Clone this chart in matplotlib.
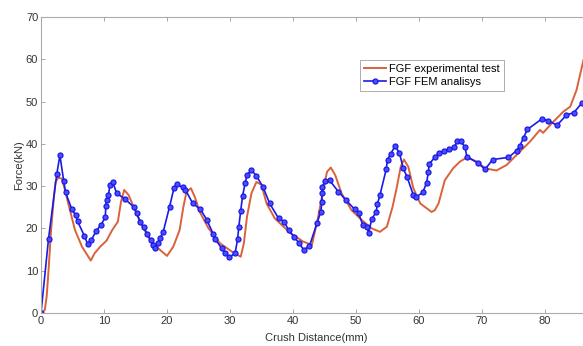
import matplotlib.pyplot as plt

# experimental curve
exp_x = [0, 0.6, 0.9, 1.2, 1.6, 2.0, 2.3, 2.75, 3.3, 3.8, 4.6, 5.4, 6.5, 7.9,
         8.5, 9.4, 10.4, 11.3, 12.2, 12.7, 13.2, 13.9, 14.7, 16.0, 17.3, 18.9,
         20.0, 21.0, 22.0, 22.6, 23.1, 23.8, 24.4, 25.2, 26.6, 28.4, 30.3, 31.7,
         32.2, 32.7, 33.4, 34.2, 35.0, 35.8, 37.1, 39.5, 41.6, 43.0, 44.0, 44.8,
         45.4, 46.0, 46.7, 47.7, 49.3, 50.9, 52.5, 53.8, 54.9, 55.8, 56.5, 57.1,
         57.6, 58.3, 59.1, 60.2, 62.0, 62.5, 63.1, 64.1, 65.4, 66.5, 67.6, 69.2,
         70.5, 72.3, 73.9, 75.5, 77.6, 79.2, 79.7, 81.1, 82.9, 84.0, 85.0, 86.1]
exp_y = [0, 0.7, 3.9, 10.2, 19.6, 26.7, 31.0, 32.0, 31.8, 29.1, 24.3, 19.6, 15.7, 12.4,
         14.1, 15.7, 17.1, 19.6, 21.6, 26.3, 29.1, 27.9, 25.1, 20.8, 17.3, 14.9,
         13.5, 15.7, 19.6, 25.1, 28.7, 29.5, 27.5, 23.9, 20.0, 16.5, 14.5, 13.3,
         16.5, 22.8, 28.3, 31.0, 30.3, 25.9, 22.4, 19.0, 16.9, 16.1, 22.8, 29.1,
         33.4, 34.4, 32.6, 28.3, 24.3, 22.0, 20.0, 19.2, 20.4, 25.1, 29.9, 34.6,
         36.3, 34.6, 29.5, 25.9, 23.9, 24.3, 25.9, 31.4, 34.2, 35.8, 36.8, 35.8,
         34.2, 33.7, 35.0, 37.4, 40.5, 43.3, 42.6, 44.9, 47.6, 48.8, 52.7, 59.8]

# FEM curve
fem_x = [0, 1.2, 2.5, 3.0, 3.6, 3.9, 4.9, 5.5, 5.8, 6.9, 7.4, 8.0, 8.8, 9.5, 10.2,
         10.3, 10.4, 10.7, 10.95, 11.4, 12.0, 13.3, 14.7, 15.2, 15.7, 16.3, 16.8,
         17.4, 17.7, 18.1, 18.5, 18.9, 19.4, 20.4, 21.1, 21.6, 22.5, 22.9, 24.1,
         25.3, 26.3, 27.3, 27.6, 28.7, 29.2, 29.9, 30.8, 31.2, 31.4, 31.7, 32.0,
         32.4, 32.7, 33.4, 34.2, 35.2, 36.3, 37.7, 38.6, 39.3, 40.2, 41.0, 41.7,
         42.6, 43.8, 44.4, 44.6, 44.6, 44.6, 45.1, 45.8, 47.2, 48.4, 49.8, 50.4,
         51.1, 51.8, 52.0, 52.5, 53.2, 53.4, 53.8, 54.8, 55.0, 55.5, 56.2, 56.9,
         57.5, 58.1, 59.1, 59.5, 60.6, 61.2, 61.5, 61.6, 62.5, 63.1, 64.0, 64.8,
         65.6, 66.1, 66.6, 67.3, 67.6, 69.3, 70.5, 71.7, 74.2, 75.5, 76.0, 76.6,
         77.2, 79.5, 80.5, 81.9, 83.4, 84.6, 85.8]
fem_y = [0, 17.6, 32.8, 37.3, 31.3, 28.5, 24.5, 23.1, 21.7, 18.2, 16.3, 17.3, 19.5,
         20.8, 22.6, 25.4, 26.7, 27.9, 30.3, 31.0, 28.3, 27.0, 25.1, 23.6, 21.6,
         20.4, 18.8, 17.3, 16.1, 15.3, 16.5, 17.7, 19.2, 25.1, 29.5, 30.4, 29.7,
         29.2, 25.9, 24.5, 22.1, 18.8, 17.5, 15.3, 14.1, 13.2, 14.1, 17.4, 20.4,
         24.2, 27.7, 30.7, 32.6, 33.8, 32.4, 29.9, 25.9, 22.4, 21.6, 19.6, 17.9,
         16.5, 14.9, 15.8, 21.2, 23.9, 26.3, 28.3, 29.7, 31.3, 31.4, 28.7, 26.7,
         24.5, 23.6, 20.8, 20.3, 19.0, 22.2, 23.9, 25.8, 27.9, 34.0, 36.3, 37.6,
         39.5, 37.8, 34.2, 32.2, 27.9, 27.4, 28.5, 30.8, 33.4, 35.2, 36.8, 37.8,
         38.4, 38.7, 39.2, 40.7, 40.7, 39.2, 37.0, 35.5, 34.0, 36.3, 36.8, 38.4,
         39.5, 41.5, 43.4, 45.9, 45.5, 44.4, 46.8, 47.4, 49.6]

plt.rcParams['font.family'] = ['Liberation Sans', 'DejaVu Sans']

fig = plt.figure(figsize=(5.83, 3.46), dpi=100)
# axes runs past the right edge, the original picture is cut there
ax = fig.add_axes([41/583, 33/346, 550/583, 296/346])

ax.plot(exp_x, exp_y, color='#d9623b', lw=1.4, label='FGF experimental test')
ax.plot(fem_x, fem_y, color='#1a1ae6', lw=1.2, marker='o', ms=3.6,
        mfc='#4d4dff', mec='#1a1ae6', mew=0.9, label='FGF FEM analisys')

ax.set_xlim(0, 87.3)
ax.set_ylim(0, 70)
ax.set_xticks(range(0, 90, 10))
ax.set_yticks(range(0, 71, 10))
ax.tick_params(direction='in', top=True, right=True, length=3, width=0.6,
               colors='#999999', labelcolor='#333333', labelsize=8, pad=2)
for s in ax.spines.values():
    s.set_color('#aaaaaa')
    s.set_linewidth(0.8)

ax.set_xlabel('Crush Distance(mm)', fontsize=8, color='#333333', labelpad=5)
ax.set_ylabel('Force(kN)', fontsize=8, color='#333333', labelpad=1)

leg = ax.legend(loc='upper left', bbox_to_anchor=(360/583, 1 - 60/346),
                bbox_transform=fig.transFigure, fontsize=8, frameon=True,
                fancybox=False, handlelength=2.0, handletextpad=0.3,
                borderpad=0.35, labelspacing=0.25, borderaxespad=0)
leg.get_frame().set_edgecolor('#999999')
leg.get_frame().set_linewidth(0.7)

fig.savefig('out.png', dpi=100)
